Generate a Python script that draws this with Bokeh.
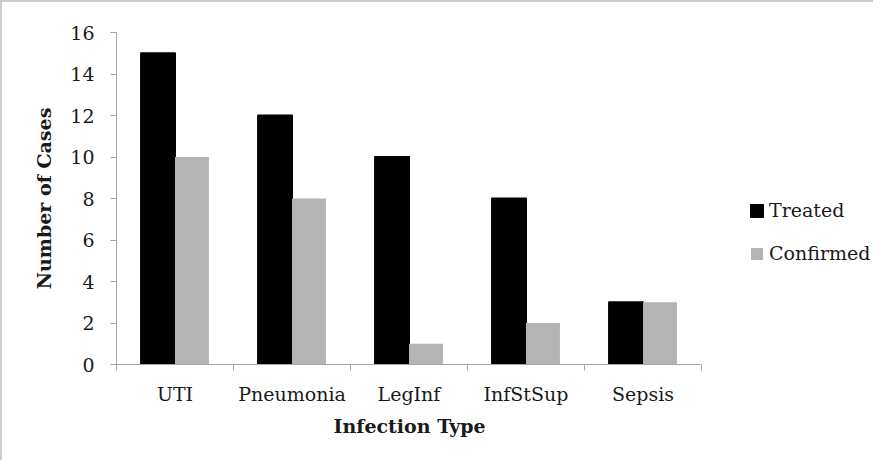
from bokeh.plotting import figure
from bokeh.models import FixedTicker, Range1d, Legend, LegendItem, ColumnDataSource, Title
from bokeh.transform import dodge
from bokeh.embed import file_html
from bokeh.resources import INLINE

categories = ["UTI", "Pneumonia", "LegInf", "InfStSup", "Sepsis"]
treated = [15, 12, 10, 8, 3]
confirmed = [10, 8, 1, 2, 3]
y_ticks = [0, 2, 4, 6, 8, 10, 12, 14, 16]
x_title = "Infection Type"
y_title = "Number of Cases"

centers = [i + 0.5 for i in range(len(categories))]
edges = list(range(len(categories) + 1))
src = ColumnDataSource(dict(x=centers, treated=treated, confirmed=confirmed))

FONT = "DejaVu Serif"
AXIS = "#a6a6a6"
TXT = "#1a1a1a"

# layout: the axis spans 585 px; the frame extends to the right to hold the legend
AXIS_PX = 585
FRAME_W = 757
x_end = len(categories) * FRAME_W / AXIS_PX

p = figure(frame_width=FRAME_W, frame_height=332,
           x_range=Range1d(0, x_end), y_range=Range1d(0, 16),
           output_backend="svg", toolbar_location=None,
           min_border_left=114, min_border_right=0,
           min_border_top=30, min_border_bottom=96)
p.styles = {"border-top": "2px solid #cccccc", "border-left": "2px solid #cccccc"}
p.outline_line_color = None
p.xgrid.visible = False
p.ygrid.visible = False

r1 = p.vbar(x=dodge("x", -0.145), top="treated", width=0.29, source=src,
            fill_color="black", line_color="black", line_width=2, line_join="round")
r2 = p.vbar(x=dodge("x", 0.145), top="confirmed", width=0.29, source=src,
            fill_color="#b4b4b4", line_color=None)

xa = p.xaxis[0]
xa.bounds = (0, len(categories))
xa.ticker = FixedTicker(ticks=centers, minor_ticks=edges)
xa.major_label_overrides = {c: name for c, name in zip(centers, categories)}
xa.major_tick_line_color = None
xa.major_tick_out = 6
xa.major_tick_in = 0
xa.minor_tick_line_color = AXIS
xa.minor_tick_out = 6
xa.minor_tick_in = 0
xa.axis_line_color = AXIS
xa.major_label_text_font = FONT
xa.major_label_text_font_size = "19px"
xa.major_label_text_color = TXT
xa.major_label_standoff = 12

# x axis title centred under the axis (not under the wider frame)
xt = Title(text=x_title, align="left", offset=217, standoff=10,
           text_font=FONT, text_font_style="bold", text_font_size="19px",
           text_color=TXT)
p.add_layout(xt, "below")

ya = p.yaxis[0]
ya.ticker = FixedTicker(ticks=y_ticks)
ya.major_tick_line_color = AXIS
ya.major_tick_out = 6
ya.major_tick_in = 0
ya.minor_tick_line_color = None
ya.axis_line_color = AXIS
ya.major_label_text_font = FONT
ya.major_label_text_font_size = "19px"
ya.major_label_text_color = TXT
ya.major_label_standoff = 16
ya.axis_label = y_title
ya.axis_label_text_font = FONT
ya.axis_label_text_font_style = "bold"
ya.axis_label_text_font_size = "19px"
ya.axis_label_text_color = TXT
ya.axis_label_standoff = 12

legend = Legend(items=[LegendItem(label="Treated", renderers=[r1]),
                       LegendItem(label="Confirmed", renderers=[r2])],
                location=(633, 100))
legend.glyph_width = 15
legend.glyph_height = 15
legend.label_standoff = 5
legend.spacing = 21
legend.padding = 0
legend.margin = 0
legend.border_line_color = None
legend.background_fill_alpha = 0
legend.label_text_font = FONT
legend.label_text_font_size = "19px"
legend.label_text_color = TXT
p.add_layout(legend)

open("out.html", "w").write(file_html(p, INLINE))
